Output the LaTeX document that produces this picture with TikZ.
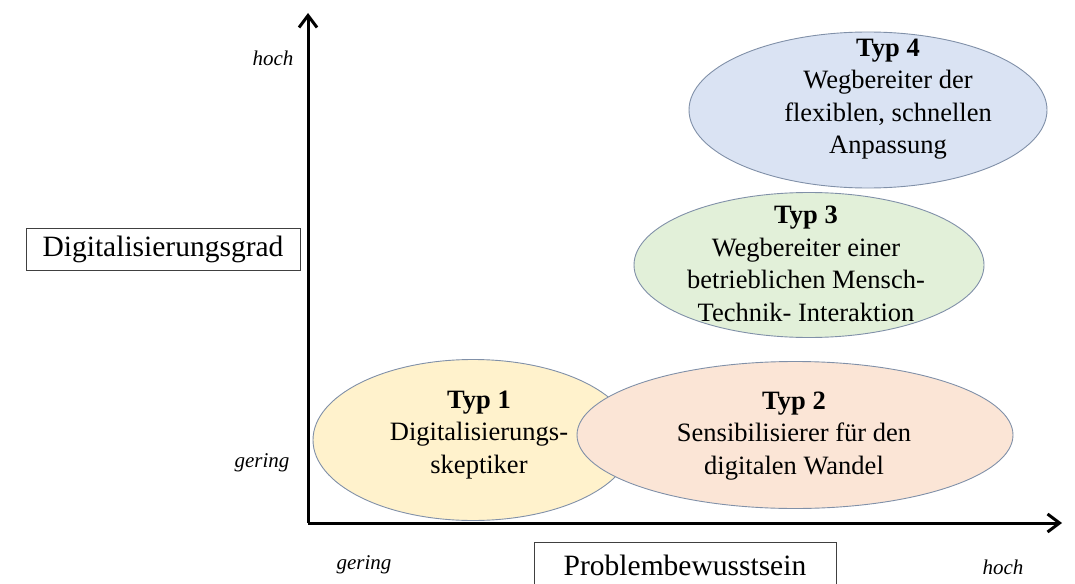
\documentclass[tikz,border=0pt]{standalone}
\usepackage{fontspec}
\setmainfont{Liberation Serif}
\usetikzlibrary{shapes.geometric,arrows.meta}
\definecolor{edgec}{HTML}{8090A8}
\definecolor{yel}{HTML}{FFF2CC}
\definecolor{pea}{HTML}{FBE5D6}
\definecolor{gre}{HTML}{E2F0D9}
\definecolor{blu}{HTML}{DAE3F3}
\tikzset{
  blob/.style={ellipse, draw=edgec, line width=0.9pt, inner sep=0pt},
  txt/.style={align=center, inner sep=0pt, font=\fontsize{26.5}{32.5}\selectfont},
  axlbl/.style={inner sep=0pt, font=\fontsize{21}{24}\selectfont\itshape},
  titlebox/.style={draw=black!75, line width=0.9pt, inner sep=0pt, font=\fontsize{29.5}{34}\selectfont},
  axis/.style={line width=3pt, -{Straight Barb[length=12pt,width=18pt,line width=3pt]}}
}
\begin{document}
\begin{tikzpicture}[x=1pt,y=-1pt]
\useasboundingbox (0,0) rectangle (1075,583);
\clip (0,0) rectangle (1075,583);
% ellipses
\node[blob, fill=blu, minimum width=358pt, minimum height=156pt] (e4) at (868,110) {};
\node[blob, fill=gre, minimum width=350pt, minimum height=145pt] (e3) at (809,265) {};
\node[blob, fill=yel, minimum width=320pt, minimum height=161pt] (e1) at (473,440) {};
\node[blob, fill=pea, minimum width=436pt, minimum height=147pt] (e2) at (795,435) {};
% texts
\node[txt] (t4) at (888,99) {\textbf{Typ 4}\\Wegbereiter der\\flexiblen, schnellen\\Anpassung};
\node[txt] (t3) at (806,264) {\textbf{Typ 3}\\Wegbereiter einer\\betrieblichen Mensch-\\Technik- Interaktion};
\node[txt] (t1) at (479,435) {\textbf{Typ 1}\\Digitalisierungs-\\skeptiker};
\node[txt] (t2) at (794,436) {\textbf{Typ 2}\\Sensibilisierer für den\\digitalen Wandel};
% axes
\coordinate (o) at (308,523);
\coordinate (ytop) at (308,13);
\coordinate (xend) at (1062,523);
\draw[axis] (o) -- (ytop);
\draw[axis] (o) -- (xend);
% axis labels
\node[axlbl] (yh) at (273,58) {hoch};
\node[axlbl] (yg) at (262,463) {gering};
\node[axlbl] (xg) at (364,565) {gering};
\node[axlbl] (xh) at (1003,567) {hoch};
% title boxes
\node[titlebox, minimum width=274pt, minimum height=42pt] (dg) at (163,249) {Digitalisierungsgrad};
\node[titlebox, minimum width=302pt, minimum height=46pt] (pb) at (685,565) {Problembewusstsein};
\end{tikzpicture}
\end{document}
